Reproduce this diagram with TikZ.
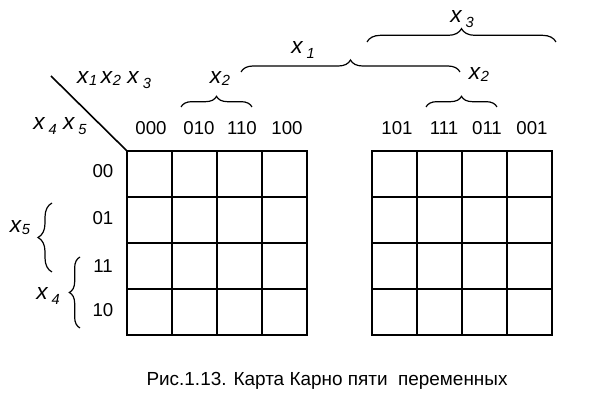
\documentclass[tikz,border=0pt]{standalone}
\usepackage{fontspec}
\setmainfont{Liberation Sans}
\usetikzlibrary{decorations.pathreplacing}
\newcommand\xv[1]{\textit{x}\raisebox{-1.5pt}{\fontsize{11}{11}\selectfont\textit{#1}}}
\newcommand\xw[1]{\textit{x}\hspace{2.5pt}\raisebox{-4pt}{\fontsize{11}{11}\selectfont\textit{#1}}}
\tikzset{
  cell/.style={line width=1.2pt},
  code/.style={font=\fontsize{14}{16}\selectfont,inner sep=0pt},
  var/.style={font=\fontsize{17}{19}\selectfont,inner sep=0pt},
  brc/.style={decorate,decoration={brace,amplitude=#1},line width=0.9pt},
  brc/.default=8pt
}

\begin{document}
\begin{tikzpicture}[x=0.75pt,y=-0.75pt]
  \useasboundingbox (0,0) rectangle (590,409);
  % the two halves of the map
  \foreach \gx in {127,372}
    \foreach \i in {0,...,3}
      \foreach \j in {0,...,3}
        \draw[cell] ({\gx+45*\i},{151+46*\j}) rectangle ++(45,46);
  \coordinate (corner) at (127,151);
  \coordinate (diag) at (51,76);
  \draw[cell] (diag) -- (corner);
  \node[var] (colvars) at (114,80) {\xv{1}\,\xv{2}\;\xw{3}};
  \node[var] (rowvars) at (60,126) {\xw{4}\;\xw{5}};
  % column and row codes
  \foreach \c/\px in {000/151,010/199,110/242,100/287,101/397,111/444,011/487,001/532}
    \node[code] (c\c) at (\px,128) {\c};
  \foreach \r/\py in {00/171,01/218,11/266,10/310}
    \node[code] (r\r) at (103,\py) {\r};
  % braces
  \draw[brc=8pt] (181,107) -- (252,107);
  \draw[brc=9pt] (241,72) -- (460,72);
  \draw[brc=10pt] (367,42) -- (556,42);
  \draw[brc=8pt] (426,107) -- (497,107);
  \draw[brc=10.5pt] (52,272) -- (52,203);
  \draw[brc=8pt] (80,328) -- (80,257);
  \node[var] (xtwoL) at (220,79) {\xv{2}};
  \node[var] (xone) at (303,50) {\xw{1}};
  \node[var] (xthree) at (462,19) {\xw{3}};
  \node[var] (xtwoR) at (479,75) {\xv{2}};
  \node[var] (xfive) at (20,228) {\xv{5}};
  \node[var] (xfour) at (48,296) {\xw{4}};
  \node[font=\fontsize{14.2}{16}\selectfont,inner sep=0pt] (caption) at (327,381) {Рис.1.13. Карта Карно пяти\ \ переменных};
\end{tikzpicture}
\end{document}
